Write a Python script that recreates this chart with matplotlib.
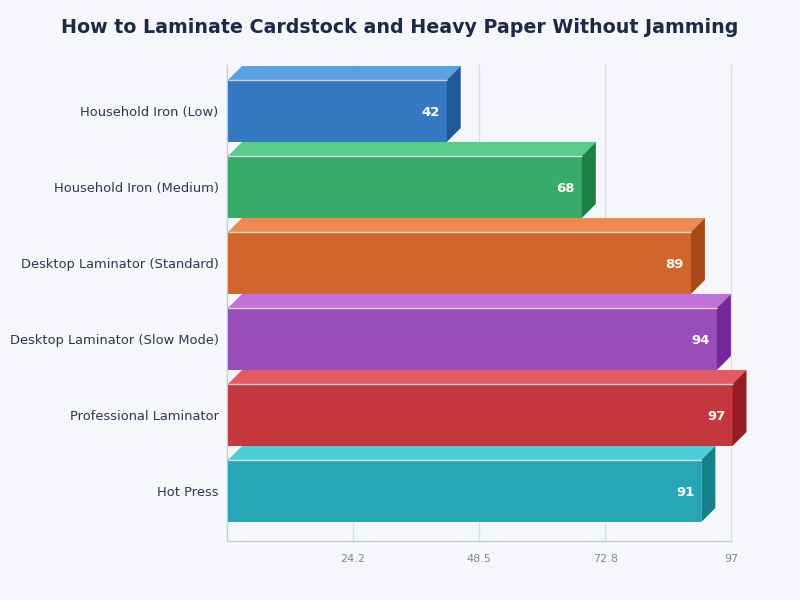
import matplotlib
matplotlib.use("Agg")
import matplotlib.pyplot as plt
from matplotlib.patches import Polygon, Rectangle

categories = ["Household Iron (Low)", "Household Iron (Medium)", "Desktop Laminator (Standard)",
              "Desktop Laminator (Slow Mode)", "Professional Laminator", "Hot Press"]
values = [42, 68, 89, 94, 97, 91]
front_colors = ["#3479c2", "#37ab68", "#d2652d", "#9a4cb9", "#c4383e", "#27a6b5"]
top_colors = ["#5ba0e1", "#58cc88", "#ec8a52", "#c171d9", "#e05b63", "#4dcfd9"]
side_colors = ["#1f5a99", "#1f7f46", "#a84a18", "#74299b", "#961c23", "#167f8c"]
xticks = [24.2, 48.5, 72.8, 97]
xtick_labels = ["24.2", "48.5", "72.8", "97"]

bg = "#f5f7fb"
fig = plt.figure(figsize=(8, 6), dpi=100, facecolor=bg)
ax = fig.add_axes([0.28375, 0.09833, 0.63, 0.79333], facecolor=bg)

xmax = 97
ax.set_xlim(0, xmax)
ax.set_ylim(5 + 50 / 76, -46 / 76)

px_per_x = 504 / xmax
dx = 14 / px_per_x
dy = 14 / 76
h = 62 / 76
x0 = 1 / px_per_x

ax.set_axisbelow(True)
ax.xaxis.grid(True, color="#d9dfe8", linewidth=1)
ax.yaxis.grid(False)
for gl in ax.get_xgridlines():
    gl.set_clip_on(False)

for i, (v, fc, tc, sc) in enumerate(zip(values, front_colors, top_colors, side_colors)):
    y0 = i - h / 2
    y1 = i + h / 2
    ve = v + 1.5 / px_per_x
    ax.add_patch(Rectangle((x0, y0), ve - x0, h, facecolor=fc, edgecolor="none", zorder=3,
                           clip_on=False))
    ax.add_patch(Polygon([(x0, y0), (x0 + dx, y0 - dy), (ve + dx, y0 - dy), (ve, y0)],
                         closed=True, facecolor=tc, edgecolor="none", zorder=3, clip_on=False))
    ax.add_patch(Polygon([(ve, y0), (ve + dx, y0 - dy), (ve + dx, y1 - dy), (ve, y1)],
                         closed=True, facecolor=sc, edgecolor="none", zorder=3, clip_on=False))
    ax.plot([x0, ve], [y0, y0], color="white", alpha=0.7, linewidth=1, zorder=4,
            solid_capstyle="butt", clip_on=False)
    ax.text(ve - 7 / px_per_x, i + 0.02, str(v), ha="right", va="center", color="white",
            fontsize=9.5, fontweight="bold", zorder=5)

ax.set_yticks(range(len(categories)))
ax.set_yticklabels(categories, fontsize=9.4, color="#2b3850")
ax.set_xticks(xticks)
ax.set_xticklabels(xtick_labels, fontsize=8, color="#7d8898")
ax.tick_params(axis="both", length=0)
ax.tick_params(axis="y", pad=6)
ax.tick_params(axis="x", pad=9)
for gl in ax.get_xgridlines():
    gl.set_clip_on(False)

for s in ["top", "right"]:
    ax.spines[s].set_visible(False)
for s in ["left", "bottom"]:
    ax.spines[s].set_color("#c5ccd6")
    ax.spines[s].set_linewidth(1)

fig.text(0.5, 0.954, "How to Laminate Cardstock and Heavy Paper Without Jamming",
         ha="center", va="center", fontsize=13.7, fontweight="bold", color="#1b2a48")

fig.savefig("out.png", dpi=100, facecolor=bg)
